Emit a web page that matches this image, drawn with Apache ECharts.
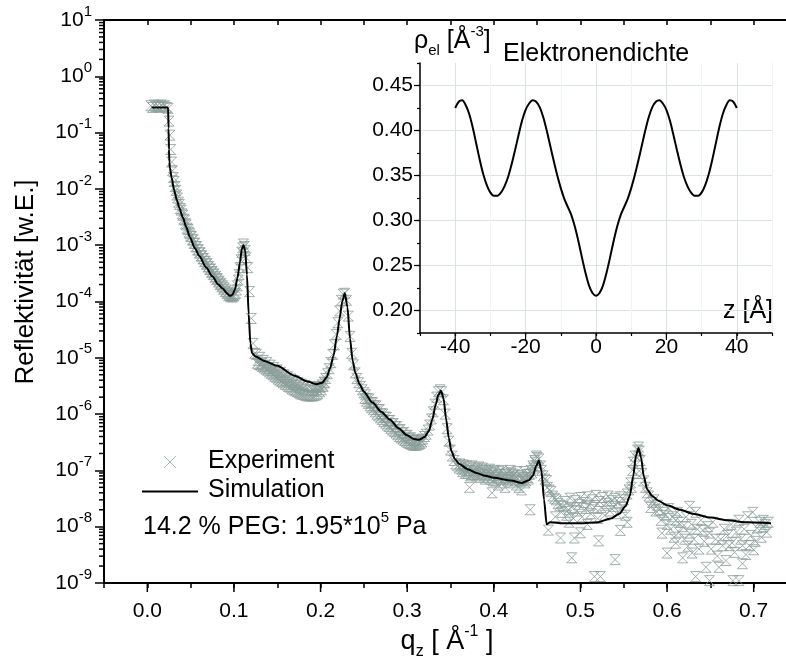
<!DOCTYPE html>
<html><head><meta charset="utf-8">
<script src="https://cdn.jsdelivr.net/npm/echarts@6/dist/echarts.min.js"></script>
<style>html,body{margin:0;padding:0;background:#fff}#c{width:786px;height:670px}</style>
</head><body><div id="c"></div>
<script>
// ---------- data ----------
const simulation = [
[0.005,2.8e-1],[0.024,2.8e-1],[0.0245,1.2e-1],[0.025,5e-2],[0.0255,3e-2],[0.026,2.4e-2],[0.028,1.6e-2],[0.031,9.5e-3],[0.034,6.4e-3],[0.037,4.6e-3],
[0.041,3.1e-3],[0.045,2.1e-3],[0.049,1.4e-3],[0.055,8.8e-4],[0.060,6.4e-4],[0.068,4.0e-4],[0.075,2.8e-4],[0.082,2.0e-4],[0.087,1.7e-4],[0.092,1.4e-4],
[0.095,1.26e-4],[0.098,1.3e-4],[0.101,1.6e-4],[0.104,2.6e-4],[0.107,5.0e-4],[0.109,8.5e-4],[0.111,1.0e-3],[0.113,8.0e-4],[0.115,3.0e-4],[0.117,6.0e-5],
[0.119,1.8e-5],[0.121,1.2e-5],[0.125,1.05e-5],[0.135,8.8e-6],[0.150,7.2e-6],[0.170,4.8e-6],[0.185,3.8e-6],[0.195,3.4e-6],[0.202,3.6e-6],[0.207,4.5e-6],
[0.211,6.5e-6],[0.215,1.1e-5],[0.219,2.5e-5],[0.222,5.0e-5],[0.225,1.0e-4],[0.228,1.4e-4],[0.231,8.0e-5],[0.234,2.2e-5],[0.237,9.0e-6],[0.240,5.5e-6],
[0.245,3.4e-6],[0.250,2.5e-6],[0.260,1.6e-6],[0.270,1.1e-6],[0.280,8.0e-7],[0.290,5.6e-7],[0.300,4.2e-7],[0.308,3.6e-7],[0.314,3.5e-7],[0.320,3.9e-7],
[0.325,5.0e-7],[0.329,8.0e-7],[0.333,1.5e-6],[0.336,2.2e-6],[0.339,2.6e-6],[0.342,1.9e-6],[0.345,8.0e-7],[0.348,3.8e-7],[0.351,2.2e-7],[0.355,1.6e-7],
[0.360,1.3e-7],[0.370,1.05e-7],[0.380,9.0e-8],[0.390,8.0e-8],[0.400,7.4e-8],[0.420,6.6e-8],[0.432,6.0e-8],[0.440,6.6e-8],[0.445,8.0e-8],[0.449,1.2e-7],
[0.452,1.5e-7],[0.455,1.0e-7],[0.458,3.0e-8],[0.461,1.1e-8],[0.465,1.2e-8],[0.480,1.15e-8],[0.500,1.15e-8],[0.520,1.2e-8],[0.535,1.4e-8],[0.545,1.7e-8],
[0.552,2.3e-8],[0.557,3.5e-8],[0.561,8.0e-8],[0.564,1.8e-7],[0.567,2.5e-7],[0.570,1.7e-7],[0.573,8.0e-8],[0.577,4.6e-8],[0.583,3.5e-8],[0.590,2.9e-8],
[0.600,2.4e-8],[0.615,2.0e-8],[0.630,1.7e-8],[0.650,1.45e-8],[0.670,1.3e-8],[0.690,1.2e-8],[0.720,1.15e-8]
];

const experimentLow = [
[0.004,0.30],[0.006,0.28],[0.008,0.31],[0.010,0.29],[0.012,0.30],[0.014,0.28],[0.016,0.31],[0.018,0.29],[0.020,0.30],[0.022,0.28],[0.024,0.27],
[0.025,0.16],[0.026,0.09],[0.027,0.05],[0.028,0.03],[0.029,0.021],[0.030,0.016],[0.032,0.011],[0.034,0.0078],[0.036,0.0058],[0.038,0.0045],
[0.040,0.0036],[0.042,0.0029],[0.044,0.0024],[0.046,0.0020],[0.048,0.0017],
[0.050,1.45e-3],[0.052,1.25e-3],[0.054,1.08e-3],[0.056,9.4e-4],[0.058,8.2e-4],[0.060,7.3e-4],[0.062,6.4e-4],[0.064,5.7e-4],[0.066,5.1e-4],[0.068,4.6e-4],
[0.070,4.1e-4],[0.072,3.7e-4],[0.074,3.3e-4],[0.076,3.0e-4],[0.078,2.7e-4],[0.080,2.45e-4],[0.082,2.22e-4],[0.084,2.0e-4],[0.086,1.82e-4],[0.088,1.65e-4],
[0.090,1.5e-4],[0.092,1.38e-4],[0.094,1.28e-4],[0.096,1.22e-4],[0.098,1.2e-4],[0.100,1.25e-4],[0.102,1.4e-4],[0.104,1.9e-4],[0.106,3.0e-4],[0.108,5.5e-4],
[0.110,9.0e-4],[0.112,9.5e-4],[0.114,6.0e-4],[0.116,4.0e-4],[0.118,1.5e-4],[0.120,5.0e-5],[0.122,1.8e-5],[0.124,1.2e-5]
];
const experimentLowB = [
[0.031,1.35e-2],[0.033,9.4e-3],[0.035,6.9e-3],[0.037,5.3e-3],[0.039,4.2e-3],[0.041,3.4e-3],[0.043,2.8e-3],[0.045,2.3e-3],[0.047,1.9e-3],[0.049,1.6e-3],
[0.051,1.42e-3],[0.053,1.24e-3],[0.055,1.08e-3],[0.057,9.4e-4],[0.059,8.3e-4],[0.061,7.3e-4],[0.063,6.5e-4],[0.065,5.8e-4],[0.067,5.2e-4],[0.069,4.7e-4],
[0.071,4.2e-4],[0.073,3.8e-4],[0.075,3.4e-4],[0.077,3.1e-4],[0.079,2.8e-4],[0.081,2.55e-4],[0.083,2.3e-4],[0.085,2.1e-4],[0.087,1.9e-4],[0.089,1.75e-4],
[0.091,1.6e-4],[0.093,1.45e-4],[0.095,1.35e-4],[0.097,1.3e-4],[0.099,1.28e-4],[0.101,1.35e-4],[0.103,1.6e-4],[0.105,2.4e-4],[0.107,4.0e-4],[0.109,7.5e-4],
[0.111,1.05e-3],[0.113,8.0e-4]
];

const experimentMid = [
[0.126,1.15e-5],[0.128,9.0e-6],[0.130,1.02e-5],[0.132,8.0e-6],[0.134,9.0e-6],[0.136,7.2e-6],[0.138,8.2e-6],[0.140,6.5e-6],[0.142,7.4e-6],[0.144,5.9e-6],
[0.146,6.7e-6],[0.148,5.4e-6],[0.150,6.1e-6],[0.152,4.9e-6],[0.154,5.5e-6],[0.156,4.4e-6],[0.158,5.0e-6],[0.160,4.0e-6],[0.162,4.6e-6],[0.164,3.7e-6],
[0.166,4.2e-6],[0.168,3.4e-6],[0.170,3.9e-6],[0.172,3.2e-6],[0.174,3.6e-6],[0.176,3.0e-6],[0.178,3.4e-6],[0.180,2.8e-6],[0.182,3.2e-6],[0.184,2.7e-6],
[0.186,3.1e-6],[0.188,2.6e-6],[0.190,3.0e-6],[0.192,2.6e-6],[0.194,3.0e-6],[0.196,2.7e-6],[0.198,3.1e-6],[0.200,3.0e-6],[0.202,3.3e-6],[0.204,3.7e-6],
[0.206,4.3e-6],[0.208,5.2e-6],[0.210,6.4e-6],[0.212,8.2e-6],[0.214,1.15e-5],[0.216,1.7e-5],[0.218,2.6e-5],[0.220,4.2e-5],[0.222,6.8e-5],[0.224,1.05e-4],
[0.226,1.35e-4],[0.228,1.4e-4],[0.230,1.05e-4],[0.232,5.5e-5],[0.234,2.4e-5],[0.236,1.2e-5],[0.238,7.5e-6],[0.240,5.4e-6],[0.242,4.3e-6],[0.244,3.6e-6],
[0.246,3.1e-6],[0.248,2.7e-6],[0.250,2.4e-6],
[0.252,2.2e-6],[0.254,1.9e-6],[0.256,1.85e-6],[0.258,1.6e-6],[0.260,1.6e-6],[0.262,1.4e-6],[0.264,1.4e-6],[0.266,1.2e-6],[0.268,1.2e-6],[0.270,1.02e-6],
[0.272,1.0e-6],[0.274,8.8e-7],[0.276,8.8e-7],[0.278,7.7e-7],[0.280,7.7e-7],[0.282,6.7e-7],[0.284,6.8e-7],[0.286,5.9e-7],[0.288,6.0e-7],[0.290,5.2e-7],
[0.292,5.3e-7],[0.294,4.6e-7],[0.296,4.7e-7],[0.298,4.1e-7],[0.300,4.2e-7],[0.302,3.7e-7],[0.304,3.8e-7],[0.306,3.4e-7],[0.308,3.5e-7],[0.310,3.2e-7],
[0.312,3.4e-7],[0.314,3.2e-7],[0.316,3.5e-7],[0.318,3.6e-7],[0.320,4.0e-7],[0.322,4.4e-7],[0.324,5.2e-7],[0.326,6.4e-7],[0.328,8.2e-7],[0.330,1.1e-6],
[0.332,1.5e-6],[0.334,2.0e-6],[0.336,2.5e-6],[0.338,2.7e-6],[0.340,2.5e-6],[0.342,1.8e-6],[0.344,1.0e-6],[0.346,5.5e-7],[0.348,3.3e-7],[0.350,2.3e-7],
[0.352,1.8e-7],[0.354,1.5e-7],[0.356,1.3e-7],[0.358,1.2e-7],
[0.360,1.1e-7],[0.362,1.2e-7],[0.364,9.5e-8],[0.366,1.1e-7],[0.368,1.0e-7],[0.370,9.0e-8],[0.372,1.15e-7],[0.374,8.5e-8],[0.376,1.0e-7],[0.378,9.5e-8],
[0.380,8.0e-8],[0.382,1.05e-7],[0.384,7.5e-8],[0.386,9.0e-8],[0.388,1.0e-7],[0.390,7.0e-8],[0.392,8.5e-8],[0.394,9.5e-8],[0.396,7.0e-8],[0.398,8.0e-8],
[0.400,9.0e-8],[0.402,6.5e-8],[0.404,8.0e-8],[0.406,9.5e-8],[0.408,7.0e-8],[0.410,6.0e-8],[0.412,8.5e-8],[0.414,7.5e-8],[0.416,6.5e-8],[0.418,8.0e-8],
[0.420,9.0e-8],[0.422,6.0e-8],[0.424,7.0e-8],[0.426,5.5e-8],[0.428,8.0e-8],[0.430,6.5e-8],[0.432,4.5e-8],[0.434,7.5e-8],[0.436,6.0e-8],[0.438,8.5e-8],
[0.440,7.0e-8],[0.442,2.0e-8],[0.444,9.0e-8],[0.446,1.1e-7],[0.448,1.4e-7],[0.450,1.7e-7],[0.452,1.6e-7],[0.454,1.2e-7]
];
const experimentMidB = [
[0.127,8.0e-6],[0.129,7.6e-6],[0.131,7.4e-6],[0.133,7.0e-6],[0.135,6.6e-6],[0.137,6.3e-6],[0.139,6.0e-6],[0.141,5.6e-6],[0.143,5.3e-6],[0.145,5.0e-6],
[0.147,4.7e-6],[0.149,4.5e-6],[0.151,4.2e-6],[0.153,4.0e-6],[0.155,3.8e-6],[0.157,3.6e-6],[0.159,3.4e-6],[0.161,3.3e-6],[0.163,3.1e-6],[0.165,3.0e-6],
[0.167,2.8e-6],[0.169,2.7e-6],[0.171,2.6e-6],[0.173,2.5e-6],[0.175,2.4e-6],[0.177,2.3e-6],[0.179,2.25e-6],[0.181,2.2e-6],[0.183,2.15e-6],[0.185,2.1e-6],
[0.187,2.1e-6],[0.189,2.1e-6],[0.191,2.1e-6],[0.193,2.15e-6],[0.195,2.2e-6],[0.197,2.3e-6],[0.199,2.5e-6],[0.201,2.7e-6],[0.203,3.1e-6],[0.205,3.6e-6],
[0.251,1.9e-6],[0.253,1.7e-6],[0.255,1.55e-6],[0.257,1.4e-6],[0.259,1.3e-6],[0.261,1.2e-6],[0.263,1.1e-6],[0.265,1.0e-6],[0.267,9.3e-7],[0.269,8.6e-7],
[0.271,8.0e-7],[0.273,7.4e-7],[0.275,6.9e-7],[0.277,6.4e-7],[0.279,6.0e-7],[0.281,5.6e-7],[0.283,5.2e-7],[0.285,4.9e-7],[0.287,4.6e-7],[0.289,4.3e-7],
[0.291,4.0e-7],[0.293,3.8e-7],[0.295,3.6e-7],[0.297,3.4e-7],[0.299,3.2e-7],[0.301,3.1e-7],[0.303,3.0e-7],[0.305,2.9e-7],[0.307,2.8e-7],[0.309,2.8e-7],
[0.311,2.8e-7],[0.313,2.9e-7],[0.315,3.0e-7],[0.317,3.2e-7],
[0.361,1.3e-7],[0.363,1.05e-7],[0.365,1.25e-7],[0.367,8.8e-8],[0.369,1.2e-7],[0.371,1.0e-7],[0.372,5.0e-8],[0.373,8.0e-8],[0.375,1.2e-7],[0.377,8.5e-8],
[0.379,1.1e-7],[0.381,9.0e-8],[0.383,1.15e-7],[0.385,8.5e-8],[0.387,1.1e-7],[0.389,8.0e-8],[0.391,1.0e-7],[0.393,7.5e-8],[0.395,1.05e-7],[0.397,9.0e-8],
[0.398,4.0e-8],[0.399,6.5e-8],[0.401,1.0e-7],[0.403,7.5e-8],[0.405,5.5e-8],[0.407,8.5e-8],[0.409,1.0e-7],[0.411,7.0e-8],[0.413,5.0e-8],[0.415,9.0e-8],
[0.417,7.0e-8],[0.419,1.0e-7],[0.421,7.5e-8],[0.423,8.5e-8],[0.425,6.5e-8],[0.427,9.5e-8],[0.429,5.0e-8],[0.431,8.0e-8],[0.433,7.0e-8],[0.435,9.5e-8],
[0.437,6.5e-8],[0.439,7.5e-8],[0.441,8.5e-8],[0.443,1.0e-7],[0.445,1.2e-7],[0.447,1.5e-7],[0.449,1.8e-7]
];

const experimentHigh = [
[0.455,1.0e-7],[0.457,8e-8],[0.459,7e-8],[0.461,6.6e-8],[0.462,5e-8],[0.463,8.7e-9],[0.464,4.5e-8],[0.466,4.2e-8],[0.468,3.5e-8],[0.470,3.2e-8],
[0.471,1.5e-8],[0.472,3e-8],[0.474,2.6e-8],[0.476,2.4e-8],[0.477,6.3e-9],[0.478,1.8e-8],[0.480,2.3e-8],[0.482,2.8e-8],[0.484,1.6e-8],[0.486,2e-8],
[0.487,1.2e-8],[0.488,3.2e-8],[0.490,2.8e-9],[0.490,2.2e-8],[0.492,1.4e-8],[0.493,6.3e-9],[0.494,2.9e-8],[0.496,1.9e-8],[0.498,2.5e-8],[0.500,7.8e-9],
[0.500,3.3e-8],[0.502,1.5e-8],[0.504,2.7e-8],[0.506,2.1e-8],[0.508,1.1e-8],[0.508,3.4e-8],[0.510,2.4e-8],[0.512,1.7e-8],[0.514,3e-8],[0.516,1.3e-9],
[0.516,2.2e-8],[0.518,3.6e-8],[0.520,1.4e-8],[0.521,5.6e-9],[0.522,2.8e-8],[0.523,1.3e-9],[0.524,2.2e-8],[0.526,3.3e-8],[0.528,1.6e-8],[0.530,2.6e-8],
[0.532,3.5e-8],[0.534,1.9e-8],[0.536,2.9e-8],[0.538,2.3e-8],[0.540,2.6e-9],[0.540,3.2e-8],[0.542,1.7e-8],[0.544,2.7e-8],[0.546,8.6e-9],[0.546,3.4e-8],
[0.548,2.2e-8],[0.550,3e-8],[0.552,1.6e-8],[0.554,1.2e-8],[0.554,3.8e-8],[0.556,4.5e-8],[0.558,6e-8],[0.559,5e-8],[0.560,1e-7],[0.561,1.4e-7],
[0.563,1.8e-7],[0.565,8.8e-8],[0.566,2.3e-7],[0.567,2.6e-7],[0.568,2.2e-7],[0.569,1.5e-7],[0.571,8.8e-8],[0.573,6.5e-8],[0.575,5e-8],[0.577,4e-8],
[0.579,3.5e-8],[0.581,2.2e-8],[0.583,2.7e-8],[0.585,3e-8],[0.587,1.9e-8],[0.589,2.4e-8],[0.591,2e-8],[0.593,1.3e-8],[0.594,7.7e-9],[0.596,1.8e-8],
[0.598,1.6e-8],[0.600,3.4e-9],[0.600,1.1e-8],[0.602,2.1e-8],[0.604,9e-9],[0.606,1.5e-8],[0.608,6.5e-9],[0.610,5.1e-9],[0.610,1.3e-8],[0.612,1.8e-8],
[0.614,8e-9],[0.616,1.2e-8],[0.618,2.8e-9],[0.618,1e-8],[0.620,6e-9],[0.622,1.5e-8],[0.624,4.5e-9],[0.626,7.7e-9],[0.626,2.3e-8],[0.628,1.1e-8],
[0.629,3.4e-9],[0.631,6e-9],[0.633,1.3e-9],[0.633,1.8e-8],[0.635,9e-9],[0.637,4e-9],[0.639,1.3e-8],[0.641,8.7e-9],[0.643,5.5e-9],[0.645,1.9e-9],
[0.647,1e-8],[0.649,1.1e-9],[0.649,7.7e-9],[0.651,4e-9],[0.653,1.2e-8],[0.656,6e-9],[0.658,3e-9],[0.660,1.9e-9],[0.662,6e-9],[0.664,4.6e-9],
[0.666,9e-9],[0.668,2.5e-9],[0.670,7e-9],[0.672,4.6e-9],[0.674,1.1e-8],[0.675,5.2e-9],[0.676,1.1e-9],[0.678,3.5e-9],[0.680,8e-9],[0.683,1.1e-9],
[0.683,1.3e-8],[0.685,6e-9],[0.687,2.2e-9],[0.687,4.6e-9],[0.689,9e-9],[0.691,3.2e-9],[0.693,1.5e-8],[0.695,4.6e-9],[0.697,7e-9],[0.699,1.8e-8],
[0.700,3.9e-9],[0.702,5.5e-9],[0.704,9.5e-9],[0.707,1.2e-8],[0.709,6.5e-9],[0.711,1e-8],[0.711,1.3e-8],[0.713,1.1e-8],[0.715,8e-9],[0.717,1.2e-8]
];

// inset: electron density profile
const profileZ = [-40,-39,-38,-37,-36,-35,-34,-33,-32,-31,-30,-29,-28,-27,-26,-25,-24,-23,-22,-21,-20,-19,-18,-17,-16,-15,-14,-13,-12,-11,-10,-9,-8,-7,-6,-5,-4,-3,-2,-1,
0,1,2,3,4,5,6,7,8,9,10,11,12,13,14,15,16,17,18,19,20,21,22,23,24,25,26,27,28,29,30,31,32,33,34,35,36,37,38,39,40];
const profileRho = [0.425,0.432,0.4335,0.428,0.418,0.403,0.385,0.367,0.351,0.339,0.331,0.3275,0.3275,0.331,0.338,0.348,0.362,0.378,0.395,0.411,
0.423,0.430,0.4335,0.432,0.426,0.415,0.400,0.383,0.366,0.350,0.336,0.324,0.315,0.306,0.293,0.277,0.259,0.242,0.228,0.2195,
0.2165,
0.2195,0.228,0.242,0.259,0.277,0.293,0.306,0.315,0.324,0.336,0.350,0.366,0.383,0.400,0.415,0.426,0.432,0.4335,0.430,0.423,
0.411,0.395,0.378,0.362,0.348,0.338,0.331,0.3275,0.3275,0.331,0.339,0.351,0.367,0.385,0.403,0.418,0.428,0.4335,0.432,0.425];

// tick labels
const qTickLabels = ['0.0','0.1','0.2','0.3','0.4','0.5','0.6','0.7'];
const qMajorTicks = [0,0.1,0.2,0.3,0.4,0.5,0.6,0.7];
const logDecades = [-9,-8,-7,-6,-5,-4,-3,-2,-1,0,1];
const zMajorTicks = [-40,-20,0,20,40];
const rhoMajorTicks = [0.20,0.25,0.30,0.35,0.40,0.45];

// ---------- chart ----------
const FONT = '"Liberation Sans", Arial, Helvetica, sans-serif';
const Q_MIN = -0.05, Q_MAX = 0.75, R_MIN = 1e-9, R_MAX = 10;
const Z_MIN = -50, Z_MAX = 50, RHO_MIN = 0.175, RHO_MAX = 0.475;
const markerColor = '#8a9c99';

const minorLog = [];
logDecades.slice(0, -1).forEach(d => { for (let k = 2; k <= 9; k++) minorLog.push(k * Math.pow(10, d)); });

const chart = echarts.init(document.getElementById('c'), null, {renderer: 'canvas'});
const blk = {color: '#000', width: 2};

const hourglass = 'path://M0,0L10,0L0,10L10,10Z';

function ln(x1, y1, x2, y2, w) {
  return {type: 'line', shape: {x1, y1, x2, y2}, style: {stroke: '#000', lineWidth: w || 1.5}};
}

const experimentAll = experimentLow.concat(experimentLowB, experimentMid, experimentMidB, experimentHigh);

const option = {
  backgroundColor: '#fff',
  animation: false,
  grid: [
    {left: 104, top: 20, right: -11, bottom: 87, outerBoundsMode: 'none', containLabel: false},
    {left: 420, top: 63, right: 14, bottom: 337, outerBoundsMode: 'none', containLabel: false}
  ],
  xAxis: [
    {type: 'value', gridIndex: 0, position: 'bottom', min: Q_MIN, max: Q_MAX, interval: 0.05,
     axisLine: {onZero: false, lineStyle: blk}, axisTick: {length: 5, lineStyle: {color: '#000', width: 1.5}},
     splitLine: {show: false},
     axisLabel: {margin: 18, color: '#000', fontSize: 21, fontFamily: FONT,
       formatter: v => { const k = Math.round(v * 100); return (k % 10 === 0 && k >= 0 && k <= 70) ? qTickLabels[k / 10] : ''; }}},
    {type: 'value', gridIndex: 0, position: 'top', min: Q_MIN, max: Q_MAX, interval: 0.05,
     axisLine: {onZero: false, lineStyle: blk}, axisTick: {inside: true, length: 5, lineStyle: {color: '#000', width: 1.5}},
     splitLine: {show: false}, axisLabel: {show: false}},
    {type: 'value', gridIndex: 1, min: Z_MIN, max: Z_MAX, interval: 10,
     axisLine: {onZero: false, lineStyle: {color: '#000', width: 1.5}}, axisTick: {length: 3, lineStyle: {color: '#000', width: 1.2}},
     splitLine: {show: true, lineStyle: {color: ['#eef3f3', '#dbe3e3'], width: 1}},
     axisLabel: {margin: 4, color: '#000', fontSize: 21, fontFamily: FONT,
       formatter: v => (Math.round(v) % 20 === 0 && Math.abs(v) < 50) ? String(Math.round(v)) : ''}}
  ],
  yAxis: [
    {type: 'log', gridIndex: 0, logBase: 10, min: R_MIN, max: R_MAX, splitNumber: 10,
     axisLine: {onZero: false, lineStyle: blk}, axisTick: {length: 9, lineStyle: {color: '#000', width: 1.5}},
     splitLine: {show: false}, minorTick: {show: false},
     axisLabel: {margin: 12, color: '#000', fontFamily: FONT,
       formatter: v => '{b|10}{s|' + Math.round(Math.log10(v)) + '}',
       rich: {
         b: {fontSize: 21, fontFamily: FONT, color: '#000', lineHeight: 32, verticalAlign: 'middle'},
         s: {fontSize: 15, fontFamily: FONT, color: '#000', lineHeight: 15, verticalAlign: 'top'}
       }}},
    {type: 'value', gridIndex: 1, min: RHO_MIN, max: RHO_MAX, interval: 0.025,
     axisLine: {onZero: false, lineStyle: {color: '#000', width: 1.5}}, axisTick: {length: 3, lineStyle: {color: '#000', width: 1.2}},
     splitLine: {show: true, lineStyle: {color: ['rgba(0,0,0,0)', '#dbe3e3'], width: 1}},
     axisLabel: {margin: 7, color: '#000', fontSize: 21, fontFamily: FONT,
       formatter: v => { const k = Math.round(v * 1000); return (k % 50 === 0) ? (k / 1000).toFixed(2) : ''; }}}
  ],
  series: [
    {type: 'scatter', name: 'Experiment', xAxisIndex: 0, yAxisIndex: 0,
     data: experimentAll,
     symbol: hourglass, symbolSize: 10, silent: true, large: false,
     itemStyle: {color: 'rgba(0,0,0,0)', borderColor: markerColor, borderWidth: 1}},
    {type: 'line', name: 'Simulation', xAxisIndex: 0, yAxisIndex: 0, data: simulation,
     showSymbol: false, symbol: 'none', smooth: 0.25, smoothMonotone: 'x', silent: true,
     lineStyle: {color: '#000', width: 2}},
    {type: 'line', name: 'Elektronendichte', xAxisIndex: 2, yAxisIndex: 1,
     data: profileZ.map((z, i) => [z, profileRho[i]]),
     showSymbol: false, symbol: 'none', smooth: 0.3, silent: true,
     lineStyle: {color: '#000', width: 2}},
    {type: 'custom', name: 'ticksMain', xAxisIndex: 0, yAxisIndex: 0, clip: false, silent: true,
     data: [[0.3, 1e-4]],
     renderItem: (params, api) => {
       const ch = [];
       minorLog.forEach(v => { const p = api.coord([Q_MIN, v]); ch.push(ln(p[0] - 5, p[1], p[0], p[1])); });
       qMajorTicks.forEach(q => { const p = api.coord([q, R_MIN]); ch.push(ln(p[0], p[1], p[0], p[1] + 9)); });
       return {type: 'group', children: ch};
     }},
    {type: 'custom', name: 'ticksInset', xAxisIndex: 2, yAxisIndex: 1, clip: false, silent: true,
     data: [[0, 0.3]],
     renderItem: (params, api) => {
       const ch = [];
       zMajorTicks.forEach(z => { const p = api.coord([z, RHO_MIN]); ch.push(ln(p[0], p[1], p[0], p[1] + 7, 1.2)); });
       rhoMajorTicks.forEach(r => { const p = api.coord([Z_MIN, r]); ch.push(ln(p[0] - 6, p[1], p[0], p[1], 1.2)); });
       return {type: 'group', children: ch};
     }}
  ],
  graphic: [
    {type: 'text', x: 26, y: 282, rotation: Math.PI / 2,
     style: {text: 'Reflektivität [w.E.]', fontSize: 26, fontFamily: FONT, fill: '#000', align: 'center', verticalAlign: 'middle'}},
    {type: 'text', x: 447, y: 642,
     style: {text: '{a|q}{sub|z}{a| [ Å}{sup|-1}{a| ]}', fontFamily: FONT, fill: '#000', align: 'center', verticalAlign: 'middle',
       rich: {a: {fontSize: 27, fontFamily: FONT, lineHeight: 36, verticalAlign: 'middle'},
              sub: {fontSize: 16, fontFamily: FONT, lineHeight: 16, verticalAlign: 'bottom'},
              sup: {fontSize: 16, fontFamily: FONT, lineHeight: 16, verticalAlign: 'top'}}}},
    // legend
    {type: 'group', children: [
      ln(164, 456, 176, 468, 1), ln(176, 456, 164, 468, 1)
    ].map(e => (e.style.stroke = '#a7b7b5', e))},
    {type: 'text', x: 208, y: 461,
     style: {text: 'Experiment', fontSize: 25, fontFamily: FONT, fill: '#000', verticalAlign: 'middle'}},
    {type: 'line', shape: {x1: 142, y1: 491.5, x2: 198, y2: 491.5}, style: {stroke: '#000', lineWidth: 2}},
    {type: 'text', x: 208, y: 490,
     style: {text: 'Simulation', fontSize: 25, fontFamily: FONT, fill: '#000', verticalAlign: 'middle'}},
    {type: 'text', x: 143, y: 527,
     style: {text: '{a|14.2 % PEG: 1.95*10}{sup|5}{a| Pa}', fontFamily: FONT, fill: '#000', verticalAlign: 'middle',
       rich: {a: {fontSize: 25, fontFamily: FONT, lineHeight: 34, verticalAlign: 'middle'},
              sup: {fontSize: 15, fontFamily: FONT, lineHeight: 15, verticalAlign: 'top'}}}},
    // inset labels
    {type: 'text', x: 414, y: 41,
     style: {text: '{a|ρ}{sub|el}{a| [Å}{sup|-3}{a|]}', fontFamily: FONT, fill: '#000', verticalAlign: 'middle',
       rich: {a: {fontSize: 25, fontFamily: FONT, lineHeight: 34, verticalAlign: 'middle'},
              sub: {fontSize: 15, fontFamily: FONT, lineHeight: 15, verticalAlign: 'bottom'},
              sup: {fontSize: 15, fontFamily: FONT, lineHeight: 15, verticalAlign: 'top'}}}},
    {type: 'text', x: 503, y: 54,
     style: {text: 'Elektronendichte', fontSize: 25, fontFamily: FONT, fill: '#000', verticalAlign: 'middle'}},
    {type: 'text', x: 773, y: 311,
     style: {text: 'z [Å]', fontSize: 25, fontFamily: FONT, fill: '#000', align: 'right', verticalAlign: 'middle'}}
  ]
};
chart.setOption(option);
</script>
</body></html>
